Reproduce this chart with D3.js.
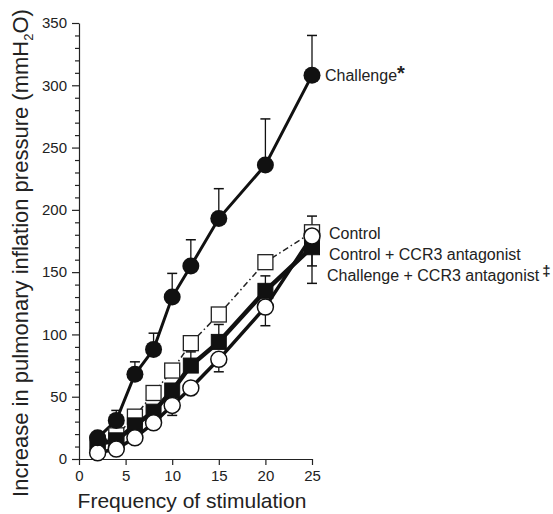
<!DOCTYPE html>
<html><head><meta charset="utf-8">
<script src="https://cdn.jsdelivr.net/npm/d3@7"></script>
<style>body{margin:0;background:#fff}svg{display:block;font-family:"Liberation Sans",Arial,sans-serif}</style>
</head><body><svg id="c" width="553" height="514"></svg>
<script>
const freq = [2,4,6,8,10,12,15,20,25];
const challenge = [17,31,68,88,130,155,193,236,308];
const challengeErr = [null,39,78,101,149,176,217,273,340];
const control = [5,8,17,29,43,57,80,122,179];
const controlErr = [null,null,null,null,35,null,70,107,195];
const ctrlCCR3 = [13,19,34,53,71,93,116,158,182];
const ctrlCCR3Err = [null,null,null,null,null,null,null,null,155];
const chalCCR3 = [12,15,27,38,55,75,94,135,170];
const chalCCR3Err = [null,null,null,null,null,86,108,147,141];
const yTicks = [0,50,100,150,200,250,300,350];
const xTicks = [0,5,10,15,20,25];

const svg = d3.select("#c");
const x = d3.scaleLinear().domain([0,25]).range([79,312]);
const y = d3.scaleLinear().domain([0,350]).range([459,23]);

svg.append("g").attr("transform","translate(79,0)")
  .call(d3.axisLeft(y).tickValues(yTicks).tickSize(7).tickPadding(5).tickSizeOuter(0));
svg.append("g").attr("transform","translate(79,0)")
  .call(d3.axisLeft(y).tickValues(d3.range(0,351,10).filter(v=>v%50)).tickSize(4).tickFormat("").tickSizeOuter(0))
  .select(".domain").remove();
svg.append("g").attr("transform","translate(0,459)")
  .call(d3.axisBottom(x).tickValues(xTicks).tickSize(6).tickPadding(5).tickSizeOuter(0));
svg.selectAll(".tick text").attr("font-size",15).attr("font-family","Liberation Sans, Arial, sans-serif").attr("fill","#222");
svg.selectAll(".domain,.tick line").attr("stroke","#222").attr("stroke-width",1.2);

svg.append("text").attr("x",192).attr("y",508).attr("text-anchor","middle")
  .attr("font-size",21).attr("fill","#222").text("Frequency of stimulation");
const yt = svg.append("text").attr("transform","translate(28,253) rotate(-90)").attr("text-anchor","middle")
  .attr("font-size",22).attr("fill","#222");
yt.append("tspan").text("Increase in pulmonary inflation pressure (mmH");
yt.append("tspan").attr("font-size",13).attr("dy",5).text("2");
yt.append("tspan").attr("dy",-5).text("O)");

function errBars(vals, errs){
  freq.forEach((f,i)=>{
    if(errs[i]==null) return;
    svg.append("line").attr("x1",x(f)).attr("x2",x(f)).attr("y1",y(vals[i])).attr("y2",y(errs[i])).attr("stroke","#111").attr("stroke-width",1.3);
    svg.append("line").attr("x1",x(f)-5).attr("x2",x(f)+5).attr("y1",y(errs[i])).attr("y2",y(errs[i])).attr("stroke","#111").attr("stroke-width",1.5);
  });
}
errBars(challenge, challengeErr);
errBars(control, controlErr);
errBars(ctrlCCR3, ctrlCCR3Err);
errBars(chalCCR3, chalCCR3Err);

const line = d3.line().x((d,i)=>x(freq[i])).y(d=>y(d));
svg.append("path").datum(ctrlCCR3).attr("d",line).attr("fill","none").attr("stroke","#222").attr("stroke-width",1.5).attr("stroke-dasharray","6,3,1.5,3");
svg.append("path").datum(control).attr("d",line).attr("fill","none").attr("stroke","#111").attr("stroke-width",3.5);
svg.append("path").datum(chalCCR3).attr("d",line).attr("fill","none").attr("stroke","#111").attr("stroke-width",4.5);
svg.append("path").datum(challenge).attr("d",line).attr("fill","none").attr("stroke","#111").attr("stroke-width",3);

const s = 15;
svg.selectAll(".sqo").data(ctrlCCR3).enter().append("rect")
  .attr("x",(d,i)=>x(freq[i])-s/2).attr("y",d=>y(d)-s/2).attr("width",s).attr("height",s)
  .attr("fill","#fff").attr("stroke","#222").attr("stroke-width",1.3);
svg.selectAll(".sqf").data(chalCCR3).enter().append("rect")
  .attr("x",(d,i)=>x(freq[i])-s/2).attr("y",d=>y(d)-s/2).attr("width",s).attr("height",s)
  .attr("fill","#111").attr("stroke","#111").attr("stroke-width",1);
svg.selectAll(".co").data(control).enter().append("circle")
  .attr("cx",(d,i)=>x(freq[i])).attr("cy",d=>y(d)).attr("r",8)
  .attr("fill","#fff").attr("stroke","#111").attr("stroke-width",1.5);
svg.selectAll(".cf").data(challenge).enter().append("circle")
  .attr("cx",(d,i)=>x(freq[i])).attr("cy",d=>y(d)).attr("r",8.5)
  .attr("fill","#111");

const lab = svg.append("g").attr("font-size",16).attr("fill","#222");
const t1 = lab.append("text").attr("x",325).attr("y",81);
t1.append("tspan").text("Challenge");
t1.append("tspan").attr("font-weight","bold").attr("font-size",20).attr("dy",-1).text("*");
lab.append("text").attr("x",329).attr("y",239).text("Control");
lab.append("text").attr("x",329).attr("y",260).text("Control + CCR3 antagonist");
const t4 = lab.append("text").attr("x",327).attr("y",281);
t4.append("tspan").text("Challenge + CCR3 antagonist");
t4.append("tspan").attr("font-weight","bold").attr("font-size",15).attr("dx",3).attr("dy",-5).text("‡");
</script></body></html>
